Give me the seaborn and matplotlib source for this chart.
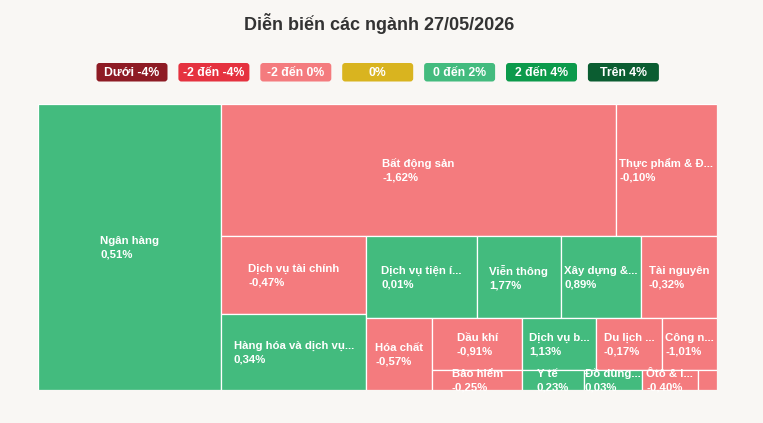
import matplotlib
matplotlib.use("Agg")
import matplotlib.pyplot as plt
from matplotlib.patches import FancyBboxPatch
import seaborn as sns

# ---------------- data ----------------
sectors = ["Ngân hàng", "Bất động sản", "Thực phẩm & Đ...", "Dịch vụ tài chính",
           "Hàng hóa và dịch vụ...", "Dịch vụ tiện í...", "Viễn thông", "Xây dựng &...",
           "Tài nguyên", "Hóa chất", "Dầu khí", "Dịch vụ b...", "Du lịch ...",
           "Công n...", "Bảo hiểm", "Y tế", "Đồ dùng...", "Ôtô & l...", "Truyền thông"]
weights = [52600, 52400, 13430, 11350, 10980, 9110, 6910, 6580, 6280, 4730,
           4650, 3830, 3410, 2840, 1800, 1240, 1150, 1130, 380]
changes = [0.51, -1.62, -0.10, -0.47, 0.34, 0.01, 1.77, 0.89, -0.32, -0.57,
           -0.91, 1.13, -0.17, -1.01, -0.25, 0.23, 0.03, -0.40, -0.50]

legend_labels = ["Dưới -4%", "-2 đến -4%", "-2 đến 0%", "0%", "0 đến 2%", "2 đến 4%", "Trên 4%"]
legend_colors = ["#8e1b24", "#e5323f", "#f47b7e", "#d9b41f", "#43bb7e", "#0c9a4b", "#0b5d31"]

title = "Diễn biến các ngành 27/05/2026"

# ---------------- helpers ----------------
def color_for(p):
    if p < -4: return legend_colors[0]
    if p < -2: return legend_colors[1]
    if p < 0: return legend_colors[2]
    if p == 0: return legend_colors[3]
    if p <= 2: return legend_colors[4]
    if p <= 4: return legend_colors[5]
    return legend_colors[6]


def ar(a, b):
    return max(a / b, b / a)


def squarify_alt(values, x, y, w, h):
    """Squarified layout with alternating direction (column first)."""
    total = float(sum(values))
    areas = [v / total * w * h for v in values]
    rects = []
    direction = 0
    rx, ry, rw, rh = x, y, w, h
    i, n = 0, len(areas)
    while i < n:
        group = [areas[i]]
        j = i + 1
        while j < n:
            prev = group[-1]
            s_old = sum(group)
            s_new = s_old + areas[j]
            if direction == 0:
                ow, nw = s_old / rh, s_new / rh
                r_old, r_new = ar(ow, prev / ow), ar(nw, prev / nw)
            else:
                oh, nh = s_old / rw, s_new / rw
                r_old, r_new = ar(prev / oh, oh), ar(prev / nh, nh)
            if r_new > r_old:
                break
            group.append(areas[j])
            j += 1
        last = j == n
        if direction == 0:
            gw = rw if last else sum(group) / rh
            cy = ry
            for a in group:
                hh = a / gw
                rects.append((rx, cy, gw, hh))
                cy += hh
            rx += gw
            rw -= gw
        else:
            gh = rh if last else sum(group) / rw
            cx = rx
            for a in group:
                ww = a / gh
                rects.append((cx, ry, ww, gh))
                cx += ww
            ry += gh
            rh -= gh
        direction = 1 - direction
        i = j
    return rects


def fmt(p):
    return f"{p:.2f}%".replace(".", ",")

# ---------------- figure ----------------
sns.set_theme(style="white")
plt.rcParams["font.family"] = ["Liberation Sans", "DejaVu Sans"]

FW, FH = 763, 423
bg = "#f9f7f4"
fig = plt.figure(figsize=(FW / 100, FH / 100), dpi=100)
fig.patch.set_facecolor(bg)

# overlay axes in pixel units for title + legend
lax = fig.add_axes([0, 0, 1, 1])
lax.set_xlim(0, FW)
lax.set_ylim(FH, 0)
lax.axis("off")

lax.text(379, 24, title, ha="center", va="center", fontsize=13,
         fontweight="bold", color="#333333")

leg_x0, leg_step, leg_w, leg_h, leg_y = 96.5, 81.9, 71, 18.5, 63
for k, (lab, col) in enumerate(zip(legend_labels, legend_colors)):
    x0 = leg_x0 + k * leg_step
    lax.add_patch(FancyBboxPatch((x0, leg_y), leg_w, leg_h,
                                 boxstyle="round,pad=0,rounding_size=3",
                                 facecolor=col, edgecolor="none"))
    lax.text(x0 + leg_w / 2, leg_y + leg_h / 2 + 0.5, lab, ha="center", va="center",
             fontsize=8.8, fontweight="bold", color="white")

# treemap axes
L, T, R, B = 38, 104, 717, 390
W, H = R - L, B - T
ax = fig.add_axes([L / FW, (FH - B) / FH, W / FW, H / FH])
ax.set_xlim(0, W)
ax.set_ylim(H, 0)
ax.axis("off")

rects = squarify_alt(weights, 0, 0, W, H)
lefts = [r[0] for r in rects]
tops = [r[1] for r in rects]
widths = [r[2] for r in rects]
heights = [r[3] for r in rects]
colors = [color_for(p) for p in changes]

ax.bar(lefts, heights, width=widths, bottom=tops, align="edge",
       color=colors, edgecolor="white", linewidth=0.9)

for (x, y, w, h), name, p in zip(rects, sectors, changes):
    if w < 25:
        continue
    ax.text(x + w / 2, y + h / 2 + 0.5, f"{name}\n{fmt(p)}", ha="center", va="center",
            multialignment="left", color="white", fontsize=8.2,
            fontweight="bold", linespacing=1.4, clip_on=False)

fig.savefig("out.png", dpi=100, facecolor=bg)
